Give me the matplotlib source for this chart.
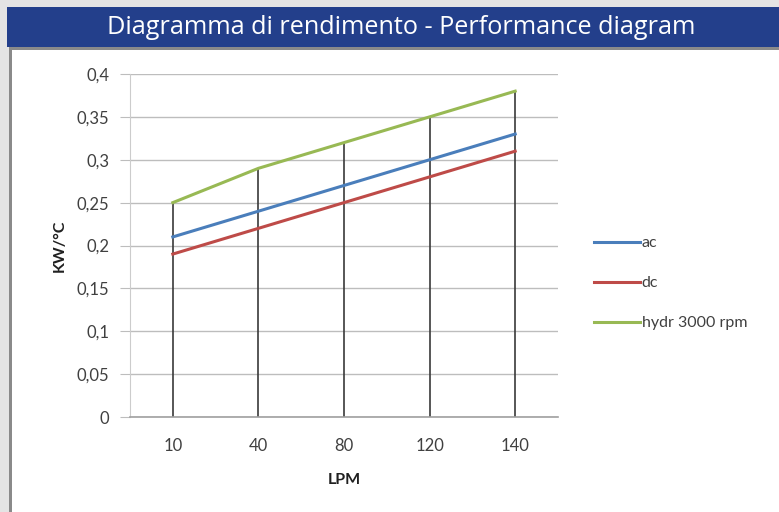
import matplotlib
matplotlib.use("Agg")
import matplotlib.pyplot as plt
from matplotlib.patches import Rectangle

# chart data
categories = ["10", "40", "80", "120", "140"]
ac = [0.21, 0.24, 0.27, 0.30, 0.33]
dc = [0.19, 0.22, 0.25, 0.28, 0.31]
hydr = [0.25, 0.29, 0.32, 0.35, 0.38]
series_names = ["ac", "dc", "hydr 3000 rpm"]
y_ticks = [0, 0.05, 0.1, 0.15, 0.2, 0.25, 0.3, 0.35, 0.4]
y_tick_labels = ["0", "0,05", "0,1", "0,15", "0,2", "0,25", "0,3", "0,35", "0,4"]

plt.rcParams['font.family'] = ['Lato', 'DejaVu Sans']

W, H = 779, 512
fig = plt.figure(figsize=(W / 100, H / 100), dpi=100)
fig.patch.set_facecolor("#e4e4e4")

def px_rect(x0, y0, x1, y1, **kw):
    # rectangle in pixel coords (top-left origin), kept behind the axes
    r = Rectangle((x0 / W, 1 - y1 / H), (x1 - x0) / W, (y1 - y0) / H,
                  transform=fig.transFigure, zorder=-5, **kw)
    fig.patches.append(r)

# white panel with grey border, and the blue banner
px_rect(9, 46, 779, 512, facecolor="#8a8a8a", edgecolor="none")
px_rect(12, 50, 779, 512, facecolor="white", edgecolor="none")
px_rect(7, 7, 779, 47, facecolor="#233f8b", edgecolor="none")
fig.text(401 / W, 1 - 27 / H, "Diagramma di rendimento - Performance diagram",
         color="white", fontsize=18.2, ha="center", va="center",
         family=["Open Sans", "DejaVu Sans"], fontstretch="semi-condensed")

ax = fig.add_axes([130 / W, 1 - 417 / H, (558 - 130) / W, (417 - 74) / H])
ax.set_zorder(2)
ax.set_facecolor("white")
x = list(range(len(categories)))

# drop lines from 0 to the highest series
ax.vlines(x, 0, hydr, color="#3a3a3a", linewidth=1.2, zorder=2)

ax.plot(x, ac, color="#4a7ebb", linewidth=2.2, label=series_names[0], zorder=3)
ax.plot(x, dc, color="#be4b48", linewidth=2.2, label=series_names[1], zorder=3)
ax.plot(x, hydr, color="#98b954", linewidth=2.2, label=series_names[2], zorder=3)

ax.set_xlim(-0.5, len(categories) - 0.5)
ax.set_ylim(0, 0.4)
ax.set_yticks(y_ticks)
ax.set_yticklabels(y_tick_labels)
ax.set_xticks(x)
ax.set_xticklabels(categories)
ax.yaxis.grid(True, color="#bdbdbd", linewidth=1.0)
ax.set_axisbelow(True)

for side in ["top", "right"]:
    ax.spines[side].set_visible(False)
ax.spines["left"].set_color("#cccccc")
ax.spines["bottom"].set_color("#a0a0a0")
ax.spines["bottom"].set_linewidth(1.2)
ax.tick_params(axis="y", length=7, color="#bdbdbd", labelsize=12,
               labelcolor="#404040", pad=8)
ax.tick_params(axis="x", length=0, labelsize=12, labelcolor="#404040", pad=15)

ax.set_ylabel("KW/°C", fontsize=11.5, fontweight="bold", color="#202020", labelpad=7)
ax.set_xlabel("LPM", fontsize=11.5, fontweight="bold", color="#202020", labelpad=14)

leg = ax.legend(loc="center left", bbox_to_anchor=(1.05, 0.39), frameon=False,
                fontsize=11.5, handlelength=2.9, handletextpad=0.1,
                labelspacing=1.62)
for t in leg.get_texts():
    t.set_color("#404040")

fig.savefig("out.png", dpi=100, facecolor=fig.get_facecolor())
